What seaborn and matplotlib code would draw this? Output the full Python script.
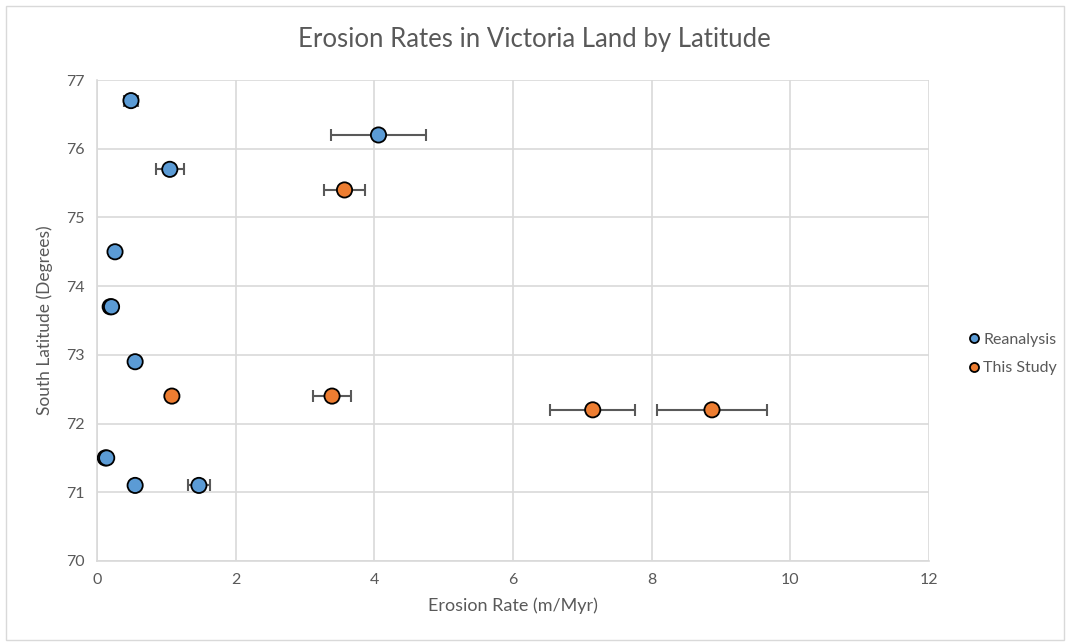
import matplotlib
matplotlib.use("Agg")
import matplotlib.pyplot as plt
from matplotlib.lines import Line2D
import seaborn as sns
import pandas as pd
import numpy as np

# Erosion rate (m/Myr), south latitude (degrees), x error, data source
rate = [0.49, 4.06, 1.05, 0.26, 0.19, 0.21, 0.55, 0.12, 0.14, 0.55, 1.47,
        3.57, 1.08, 3.39, 7.15, 8.87]
latitude = [76.7, 76.2, 75.7, 74.5, 73.7, 73.7, 72.9, 71.5, 71.5, 71.1, 71.1,
            75.4, 72.4, 72.4, 72.2, 72.2]
rate_err = [0.10, 0.69, 0.20, 0.0, 0.0, 0.0, 0.0, 0.0, 0.0, 0.0, 0.16,
            0.30, 0.0, 0.28, 0.61, 0.79]
source = ["Reanalysis"] * 11 + ["This Study"] * 5

df = pd.DataFrame({"rate": rate, "latitude": latitude, "err": rate_err, "source": source})

sns.set_theme(style="white")
plt.rcParams["font.family"] = ["Lato", "DejaVu Sans"]

fig = plt.figure(figsize=(10.68, 6.44), dpi=100)
ax = fig.add_axes([97 / 1068, 1 - 561 / 644, (929 - 97) / 1068, (561 - 80) / 644])

# outer chart frame
fig.patches.append(plt.Rectangle((6 / 1068, 4 / 644), 1058 / 1068, 634 / 644,
                                 transform=fig.transFigure, fill=False,
                                 edgecolor="#d9d9d9", linewidth=1.0))

grey = "#595959"
has_err = df[df["err"] > 0]
ax.errorbar(has_err["rate"], has_err["latitude"], xerr=has_err["err"], fmt="none",
            ecolor=grey, elinewidth=1.5, capsize=4, capthick=1.5, zorder=2)

palette = {"Reanalysis": "#5B9BD5", "This Study": "#ED7D31"}
sns.scatterplot(data=df, x="rate", y="latitude", hue="source", palette=palette,
                s=120, edgecolor="black", linewidth=1.3, ax=ax, zorder=3, legend=False)

ax.set_xlim(0, 12)
ax.set_ylim(70, 77)
ax.set_xticks(np.arange(0, 13, 2))
ax.set_yticks(np.arange(70, 78, 1))
ax.grid(True, color="#d9d9d9", linewidth=1.2)
ax.set_axisbelow(True)
for side in ["top", "right"]:
    ax.spines[side].set_visible(False)
for side in ["left", "bottom"]:
    ax.spines[side].set_color("#d9d9d9")
    ax.spines[side].set_linewidth(1.2)
ax.tick_params(axis="both", colors=grey, labelsize=11.5, length=0, pad=9)

ax.set_xlabel("Erosion Rate (m/Myr)", color=grey, fontsize=13, labelpad=7)
ax.set_ylabel("South Latitude (Degrees)", color=grey, fontsize=12.5, labelpad=9)
fig.text(0.5, 1 - 40 / 644, "Erosion Rates in Victoria Land by Latitude",
         ha="center", va="center", color=grey, fontsize=18.5)

# legend at the right of the plot area
handles = [Line2D([], [], marker="o", linestyle="none", markersize=6.5,
                  markerfacecolor=palette[k], markeredgecolor="black",
                  markeredgewidth=1.3, label=k) for k in palette]
fig.legend(handles=handles, loc="center left", bbox_to_anchor=(952 / 1068, 1 - 354 / 644),
           frameon=False, handletextpad=0.05, labelspacing=0.9, fontsize=11.5,
           labelcolor=grey, handlelength=1.0)

fig.savefig("out.png", dpi=100)
